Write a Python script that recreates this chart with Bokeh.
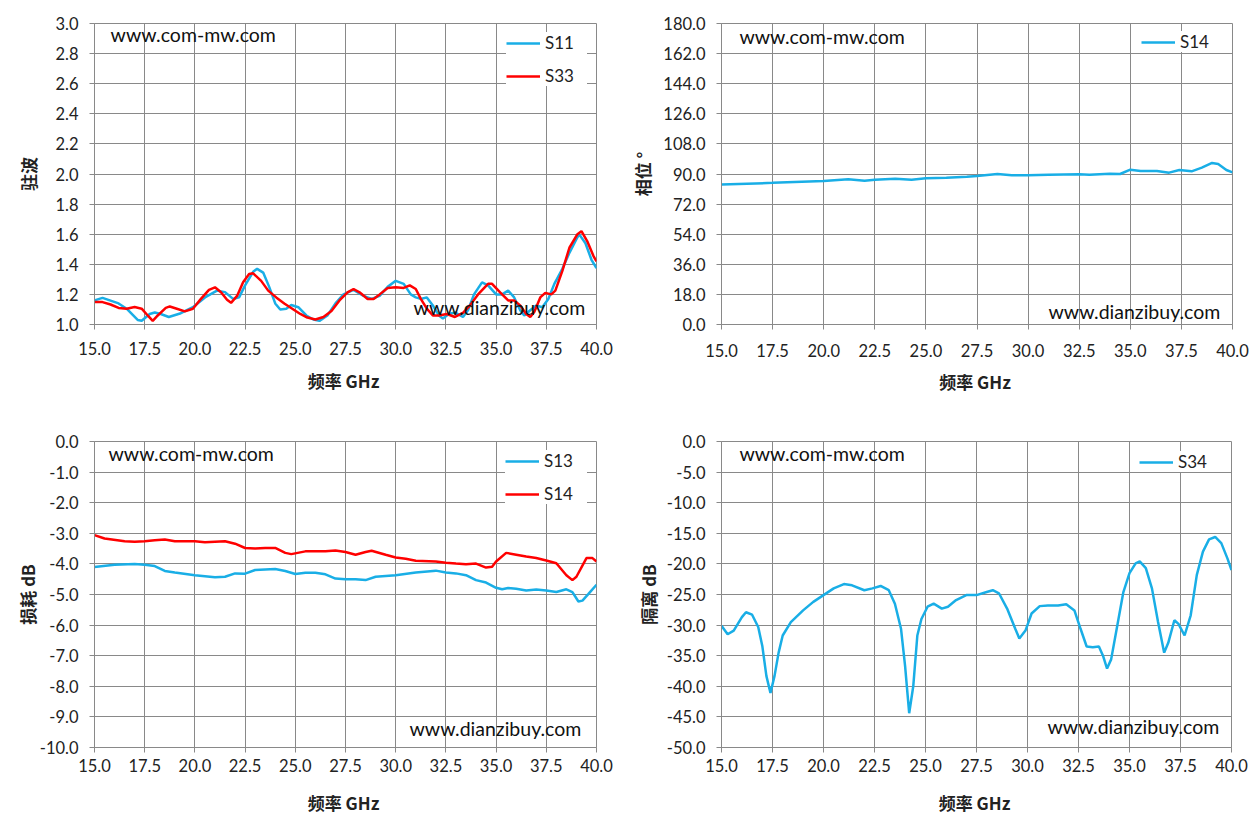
from bokeh.plotting import figure
from bokeh.layouts import column, row
from bokeh.models import FixedTicker, NumeralTickFormatter, Legend, LegendItem, Label, Range1d
from bokeh.embed import file_html
from bokeh.resources import INLINE

# ---------------- data ----------------
x_ticks = [15.0, 17.5, 20.0, 22.5, 25.0, 27.5, 30.0, 32.5, 35.0, 37.5, 40.0]

# VSWR (top-left)
s11_f = [15.0, 15.4, 16.2, 16.6, 17.15, 17.35, 17.75, 18.0, 18.3, 18.7, 19.3, 19.9, 20.5, 21.1, 21.5,
         21.9, 22.2, 22.5, 22.9, 23.1, 23.4, 23.7, 24.0, 24.25, 24.55, 24.8, 25.15, 25.55, 25.9, 26.2,
         26.6, 27.0, 27.4, 27.9, 28.4, 28.8, 29.2, 29.6, 30.0, 30.4, 30.75, 31.0, 31.25, 31.55, 31.85,
         32.15, 32.35, 32.65, 32.95, 33.35, 33.6, 33.9, 34.3, 34.6, 35.0, 35.3, 35.6, 35.9, 36.2, 36.4,
         36.7, 37.0, 37.3, 37.6, 37.9, 38.3, 38.65, 39.05, 39.15, 39.45, 39.75, 40.0]
s11_v = [1.16, 1.177, 1.14, 1.105, 1.03, 1.025, 1.07, 1.08, 1.07, 1.05, 1.075, 1.115, 1.18, 1.225, 1.215,
         1.17, 1.18, 1.26, 1.35, 1.37, 1.345, 1.25, 1.14, 1.10, 1.105, 1.13, 1.115, 1.06, 1.033, 1.024,
         1.06, 1.14, 1.20, 1.23, 1.19, 1.17, 1.19, 1.25, 1.29, 1.27, 1.20, 1.18, 1.17, 1.18, 1.127,
         1.06, 1.04, 1.07, 1.08, 1.05, 1.095, 1.20, 1.28, 1.26, 1.20, 1.20, 1.225, 1.18, 1.095, 1.06,
         1.095, 1.127, 1.115, 1.17, 1.27, 1.37, 1.476, 1.58, 1.597, 1.54, 1.43, 1.374]

s33_f = [15.0, 15.4, 15.8, 16.2, 16.6, 17.0, 17.35, 17.65, 17.9, 18.15, 18.55, 18.75, 19.1, 19.5, 19.9,
         20.3, 20.7, 21.0, 21.3, 21.6, 21.8, 22.1, 22.4, 22.7, 22.9, 23.3, 23.65, 24.05, 24.45, 24.85,
         25.25, 25.6, 26.0, 26.4, 26.8, 27.2, 27.6, 27.9, 28.2, 28.6, 28.9, 29.2, 29.6, 30.0, 30.4,
         30.7, 31.0, 31.25, 31.55, 31.85, 32.15, 32.55, 32.95, 33.35, 33.7, 34.1, 34.6, 34.8, 35.2, 35.6,
         35.9, 36.2, 36.5, 36.7, 36.9, 37.2, 37.45, 37.75, 37.95, 38.3, 38.65, 39.05, 39.25, 39.55, 39.85,
         40.0]
s33_v = [1.149, 1.149, 1.133, 1.11, 1.105, 1.116, 1.105, 1.06, 1.024, 1.06, 1.11, 1.12, 1.105, 1.087, 1.105,
         1.17, 1.23, 1.247, 1.214, 1.164, 1.144, 1.19, 1.28, 1.335, 1.34, 1.29, 1.225, 1.18, 1.14, 1.105,
         1.07, 1.046, 1.033, 1.05, 1.09, 1.16, 1.214, 1.236, 1.214, 1.17, 1.17, 1.20, 1.243, 1.247, 1.243,
         1.26, 1.236, 1.17, 1.105, 1.06, 1.06, 1.07, 1.05, 1.077, 1.127, 1.20, 1.27, 1.27, 1.214, 1.16,
         1.16, 1.127, 1.07, 1.05, 1.083, 1.18, 1.21, 1.20, 1.225, 1.356, 1.51, 1.60, 1.62, 1.55, 1.455,
         1.42]

# Phase (top-right)
ph14_f = [15.0, 17.5, 20.0, 21.2, 22.0, 22.5, 23.5, 24.3, 25.0, 26.0, 27.0, 27.5, 28.5, 29.2, 30.0, 31.0,
          32.5, 33.0, 34.0, 34.5, 35.0, 35.5, 36.3, 36.9, 37.4, 38.0, 38.5, 39.0, 39.3, 39.7, 40.0]
ph14_v = [83.7, 84.7, 85.8, 86.8, 86.0, 86.6, 87.2, 86.6, 87.4, 87.8, 88.4, 88.8, 90.0, 89.2, 89.2, 89.6,
          89.8, 89.6, 90.2, 90.0, 92.6, 91.8, 91.8, 90.8, 92.4, 91.6, 93.8, 96.6, 96.0, 92.4, 91.0]

# Insertion loss (bottom-left)
s13_f = [15.0, 16.0, 17.0, 17.5, 18.0, 18.5, 19.0, 20.0, 21.0, 21.5, 22.0, 22.5, 23.0, 24.0, 24.5, 25.0,
         25.5, 26.0, 26.5, 27.0, 27.5, 28.0, 28.5, 29.0, 30.0, 31.0, 32.0, 32.5, 33.0, 33.5, 34.0, 34.5,
         35.0, 35.3, 35.6, 36.0, 36.5, 37.0, 37.5, 38.0, 38.5, 38.8, 39.1, 39.3, 39.6, 40.0]
s13_v = [-4.10, -4.03, -4.00, -4.03, -4.07, -4.23, -4.28, -4.37, -4.44, -4.42, -4.31, -4.32, -4.20, -4.17,
         -4.23, -4.33, -4.29, -4.29, -4.34, -4.48, -4.50, -4.50, -4.53, -4.42, -4.37, -4.28, -4.22, -4.28,
         -4.31, -4.37, -4.53, -4.61, -4.78, -4.83, -4.79, -4.81, -4.87, -4.84, -4.87, -4.92, -4.83, -4.92,
         -5.23, -5.20, -4.98, -4.68]

s14_f = [15.0, 15.5, 16.5, 17.0, 17.5, 18.0, 18.5, 19.0, 20.0, 20.5, 21.5, 22.0, 22.5, 23.0, 23.5, 24.0,
         24.5, 24.8, 25.5, 26.0, 26.5, 27.0, 27.5, 28.0, 28.5, 28.8, 29.5, 30.0, 30.5, 31.0, 32.0, 32.5,
         33.0, 33.5, 34.0, 34.5, 34.8, 35.0, 35.5, 36.0, 36.5, 37.0, 37.5, 38.0, 38.5, 38.8, 39.0, 39.5,
         39.8, 40.0]
s14_v = [-3.06, -3.17, -3.26, -3.28, -3.26, -3.23, -3.20, -3.26, -3.26, -3.29, -3.26, -3.34, -3.48, -3.50,
         -3.48, -3.48, -3.64, -3.68, -3.59, -3.59, -3.59, -3.56, -3.61, -3.70, -3.61, -3.57, -3.70, -3.79,
         -3.83, -3.90, -3.92, -3.96, -3.99, -4.01, -3.99, -4.12, -4.09, -3.92, -3.64, -3.70, -3.76, -3.81,
         -3.89, -3.98, -4.37, -4.53, -4.42, -3.81, -3.81, -3.92]

# Isolation (bottom-right)
s34_f = [15.0, 15.3, 15.6, 16.0, 16.2, 16.5, 16.8, 17.0, 17.2, 17.4, 17.6, 17.8, 18.0, 18.4, 19.0, 19.5,
         20.0, 20.5, 21.0, 21.4, 22.0, 22.4, 22.8, 23.2, 23.5, 23.8, 24.0, 24.2, 24.4, 24.6, 24.8, 25.1,
         25.4, 25.8, 26.1, 26.5, 27.0, 27.5, 28.0, 28.3, 28.6, 29.0, 29.4, 29.6, 29.9, 30.2, 30.6, 31.0,
         31.5, 31.9, 32.3, 32.6, 32.9, 33.2, 33.5, 33.7, 33.9, 34.1, 34.4, 34.7, 35.0, 35.3, 35.5, 35.8,
         36.1, 36.4, 36.7, 36.9, 37.2, 37.4, 37.7, 38.0, 38.3, 38.6, 38.9, 39.2, 39.5, 39.8, 40.0]
s34_v = [-30.1, -31.5, -30.9, -28.7, -27.9, -28.3, -30.3, -33.4, -38.3, -41.1, -38.3, -34.5, -31.7, -29.5,
         -27.6, -26.2, -25.1, -24.0, -23.3, -23.5, -24.3, -24.0, -23.6, -24.3, -26.5, -30.6, -36.7, -44.4,
         -40.0, -31.7, -29.0, -27.0, -26.5, -27.3, -27.0, -25.9, -25.1, -25.1, -24.6, -24.3, -24.8, -27.3,
         -30.6, -32.2, -30.9, -28.1, -26.9, -26.8, -26.8, -26.6, -27.6, -30.6, -33.5, -33.6, -33.5, -35.0,
         -37.1, -35.6, -30.1, -24.6, -21.5, -19.9, -19.6, -20.7, -24.0, -29.5, -34.5, -32.9, -29.2, -29.8,
         -31.7, -28.4, -21.8, -18.0, -16.0, -15.6, -16.6, -19.1, -21.0]

vswr_ticks = [1.0, 1.2, 1.4, 1.6, 1.8, 2.0, 2.2, 2.4, 2.6, 2.8, 3.0]
phase_ticks = [0.0, 18.0, 36.0, 54.0, 72.0, 90.0, 108.0, 126.0, 144.0, 162.0, 180.0]
loss_ticks = [0.0, -1.0, -2.0, -3.0, -4.0, -5.0, -6.0, -7.0, -8.0, -9.0, -10.0]
iso_ticks = [0.0, -5.0, -10.0, -15.0, -20.0, -25.0, -30.0, -35.0, -40.0, -45.0, -50.0]

x_title = "频率  GHz"
watermark_1 = "www.com-mw.com"
watermark_2 = "www.dianzibuy.com"

# ---------------- styling ----------------
NUM_FONT = "Lato"
CJK_FONT = "Noto Sans CJK SC"
GRID = "#898989"
TXT = "#222222"
BLUE = "#19AEE6"
RED = "#FF0000"


def make_panel(width, height, bl, br, bt, bb, yr, yticks, ylabel, ystand, xtick_stand, xstand):
    p = figure(width=width, height=height, output_backend="svg", toolbar_location=None,
               x_range=Range1d(15.0, 40.0), y_range=Range1d(*yr),
               min_border_left=bl, min_border_right=br, min_border_top=bt, min_border_bottom=bb)
    p.outline_line_color = GRID
    p.background_fill_color = "white"
    p.border_fill_color = "white"
    p.xaxis.ticker = FixedTicker(ticks=x_ticks)
    p.yaxis.ticker = FixedTicker(ticks=yticks)
    p.xaxis.formatter = NumeralTickFormatter(format="0.0")
    p.yaxis.formatter = NumeralTickFormatter(format="0.0")
    for ax in (p.xaxis[0], p.yaxis[0]):
        ax.axis_line_color = GRID
        ax.major_tick_line_color = GRID
        ax.minor_tick_line_color = None
        ax.major_tick_out = 5
        ax.major_tick_in = 0
        ax.major_label_text_font = NUM_FONT
        ax.major_label_text_font_size = "16.5px"
        ax.major_label_text_color = TXT
        ax.axis_label_text_font = CJK_FONT
        ax.axis_label_text_font_style = "bold"
        ax.axis_label_text_font_size = "17px"
        ax.axis_label_text_color = TXT
    p.yaxis.major_label_standoff = 11
    p.xaxis.major_label_standoff = xtick_stand
    p.yaxis.axis_label = ylabel
    p.xaxis.axis_label = x_title
    p.yaxis.axis_label_standoff = ystand
    p.xaxis.axis_label_standoff = xstand
    p.xgrid.grid_line_color = GRID
    p.ygrid.grid_line_color = GRID
    p.xgrid.grid_line_width = 1
    p.ygrid.grid_line_width = 1
    return p


def add_legend(p, items, margin, padding, label_width):
    lg = Legend(items=[LegendItem(label=lab, renderers=[r]) for lab, r in items],
                location="top_right", margin=margin, padding=padding, spacing=12,
                glyph_width=34, glyph_height=20, label_height=20, label_width=label_width,
                label_standoff=5,
                label_text_font=NUM_FONT, label_text_font_size="17px", label_text_color=TXT,
                border_line_color=None, background_fill_color="white", background_fill_alpha=1.0)
    p.add_layout(lg)


def add_marks(p, x1, y1, x2, y2):
    for x, y, t in ((x1, y1, watermark_1), (x2, y2, watermark_2)):
        p.add_layout(Label(x=x, y=y, text=t, text_font=NUM_FONT, text_font_size="19.5px",
                           text_color="#111111", text_baseline="middle", text_align="left"))


# top-left: VSWR
p1 = make_panel(627, 412, 94, 31, 19, 88, (1.0, 3.0), vswr_ticks, "驻波", 11, 12, 10)
r11 = p1.line(s11_f, s11_v, line_color=BLUE, line_width=2.5)
r33 = p1.line(s33_f, s33_v, line_color=RED, line_width=2.5)
add_legend(p1, [("S11", r11), ("S33", r33)], 9, 7, 42)
add_marks(p1, 15.80, 2.926, 30.89, 1.11)

# top-right: phase
p2 = make_panel(633, 412, 94, 28, 23, 86, (0.0, 180.0), phase_ticks, "相位 °", 5, 14, 9)
rp = p2.line(ph14_f, ph14_v, line_color=BLUE, line_width=2.5)
add_legend(p2, [("S14", rp)], 8, 6, 44)
add_marks(p2, 15.88, 172.3, 31.0, 7.7)

# bottom-left: insertion loss
p3 = make_panel(627, 412, 94, 31, 29, 77, (-10.0, 0.0), loss_ticks, "损耗 dB", -3, 6, 15)
r13 = p3.line(s13_f, s13_v, line_color=BLUE, line_width=2.5)
r14 = p3.line(s14_f, s14_v, line_color=RED, line_width=2.5)
add_legend(p3, [("S13", r13), ("S14", r14)], 9, 6, 43)
add_marks(p3, 15.70, -0.39, 30.69, -9.38)

# bottom-right: isolation
p4 = make_panel(633, 412, 94, 29, 29, 77, (-50.0, 0.0), iso_ticks, "隔离 dB", 3, 6, 15)
r34 = p4.line(s34_f, s34_v, line_color=BLUE, line_width=2.5)
add_legend(p4, [("S34", r34)], 10, 6, 43)
add_marks(p4, 15.88, -1.95, 30.98, -46.6)

layout = column(row(p1, p2), row(p3, p4))

with open("out.html", "w") as f:
    f.write(file_html(layout, INLINE))
